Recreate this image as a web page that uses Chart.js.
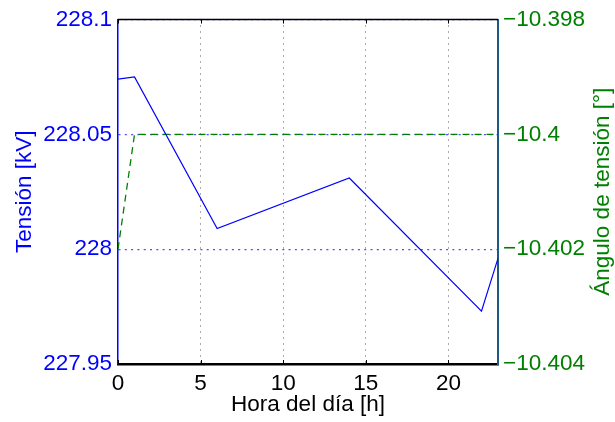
<!DOCTYPE html>
<html>
<head>
<meta charset="utf-8">
<script src="https://cdn.jsdelivr.net/npm/chart.js@4.4.1/dist/chart.umd.min.js"></script>
<style>
    html, body { margin: 0; padding: 0; background: #fff; }
    #box { width: 615px; height: 422px; }
</style>
</head>
<body>
<div id="box"><canvas id="chart"></canvas></div>
<script>
// hourly voltage vertices and angle vertices
const hours = [0, 1, 6, 14, 22, 23];
const tension = [228.074, 228.075, 228.009, 228.031, 227.973, 227.996];
const angleHours = [0, 1, 23];
const angle = [-10.402, -10.4, -10.4];

const xTicks = [0, 5, 10, 15, 20];
const leftTicks = [227.95, 228, 228.05, 228.1];
const rightTicks = [-10.404, -10.402, -10.4, -10.398];

const FONT = '"Liberation Sans", Arial, Helvetica, sans-serif';
const BLUE = '#0000ff';
const GREEN = '#008000';

const toPoints = (xs, ys) => xs.map((x, i) => ({x: x, y: ys[i]}));
const fixTicks = (list) => (scale) => {
    scale.ticks = list.map(v => ({value: v}));
};
const fmt = (v) => {
    const n = +(+v).toFixed(3);
    return (n < 0 ? '\u2212' : '') + Math.abs(n);
};

// frame: top border, small inward x ticks, right axis title
const framePlugin = {
    id: 'frame',
    afterDraw(chart) {
        const ctx = chart.ctx;
        const area = chart.chartArea;
        const x = chart.scales.x;
        ctx.save();
        ctx.strokeStyle = '#000';
        ctx.lineWidth = 1.5;
        ctx.beginPath();
        ctx.moveTo(area.left, area.top);
        ctx.lineTo(area.right, area.top);
        ctx.stroke();

        ctx.lineWidth = 1;
        xTicks.forEach(t => {
            const px = Math.round(x.getPixelForValue(t)) + 0.5;
            ctx.beginPath();
            ctx.moveTo(px, area.top);
            ctx.lineTo(px, area.top + 4);
            ctx.moveTo(px, area.bottom);
            ctx.lineTo(px, area.bottom - 4);
            ctx.stroke();
        });

        ctx.translate(603, (area.top + area.bottom) / 2);
        ctx.rotate(-Math.PI / 2);
        ctx.fillStyle = GREEN;
        ctx.font = '22.5px ' + FONT;
        ctx.textAlign = 'center';
        ctx.textBaseline = 'middle';
        ctx.fillText('Ángulo de tensión [°]', 0, 0);
        ctx.restore();
    }
};

const ctx = document.getElementById('chart').getContext('2d');

new Chart(ctx, {
    type: 'line',
    data: {
        datasets: [{
            data: toPoints(hours, tension),
            yAxisID: 'y',
            borderColor: BLUE,
            borderWidth: 1.2,
            pointRadius: 0,
            tension: 0
        }, {
            data: toPoints(angleHours, angle),
            yAxisID: 'y1',
            borderColor: GREEN,
            borderWidth: 1.3,
            borderDash: [7, 5],
            pointRadius: 0,
            tension: 0
        }]
    },
    options: {
        responsive: true,
        maintainAspectRatio: false,
        animation: false,
        layout: {
            padding: {top: 16, left: 0, right: 0, bottom: 0}
        },
        plugins: {
            legend: {display: false},
            tooltip: {enabled: false}
        },
        scales: {
            x: {
                type: 'linear',
                min: 0,
                max: 23,
                afterBuildTicks: fixTicks(xTicks),
                afterFit: (scale) => { scale.height = 58; },
                grid: {
                    color: (c) => c.tick && c.tick.value === 0 ? 'rgba(0,0,0,0)' : 'rgba(60,60,60,0.85)',
                    lineWidth: 1,
                    drawTicks: false
                },
                border: {color: '#000', width: 2.5, dash: [1, 5]},
                ticks: {
                    color: '#000',
                    font: {family: FONT, size: 22.5},
                    padding: 6,
                    maxRotation: 0,
                    callback: fmt
                },
                title: {
                    display: true,
                    text: 'Hora del día [h]',
                    color: '#000',
                    font: {family: FONT, size: 22.5},
                    padding: {top: 0, bottom: 4}
                }
            },
            y: {
                type: 'linear',
                position: 'left',
                min: 227.95,
                max: 228.1,
                afterBuildTicks: fixTicks(leftTicks),
                afterFit: (scale) => { scale.width = 118; },
                grid: {
                    color: '#4d4dff',
                    lineWidth: 1.2,
                    drawTicks: false
                },
                border: {color: BLUE, width: 1.5, dash: [2, 4.3]},
                ticks: {
                    color: BLUE,
                    font: {family: FONT, size: 22.5},
                    padding: 6,
                    callback: fmt
                },
                title: {
                    display: true,
                    text: 'Tensión [kV]',
                    color: BLUE,
                    font: {family: FONT, size: 22.5},
                    padding: {top: 11, bottom: 0}
                }
            },
            y1: {
                type: 'linear',
                position: 'right',
                min: -10.404,
                max: -10.398,
                afterBuildTicks: fixTicks(rightTicks),
                afterFit: (scale) => { scale.width = 117; },
                grid: {display: false, drawTicks: false},
                border: {color: '#1b5b80', width: 2},
                ticks: {
                    color: GREEN,
                    font: {family: FONT, size: 22.5},
                    padding: 5,
                    callback: fmt
                }
            }
        }
    },
    plugins: [framePlugin]
});
</script>
</body>
</html>
